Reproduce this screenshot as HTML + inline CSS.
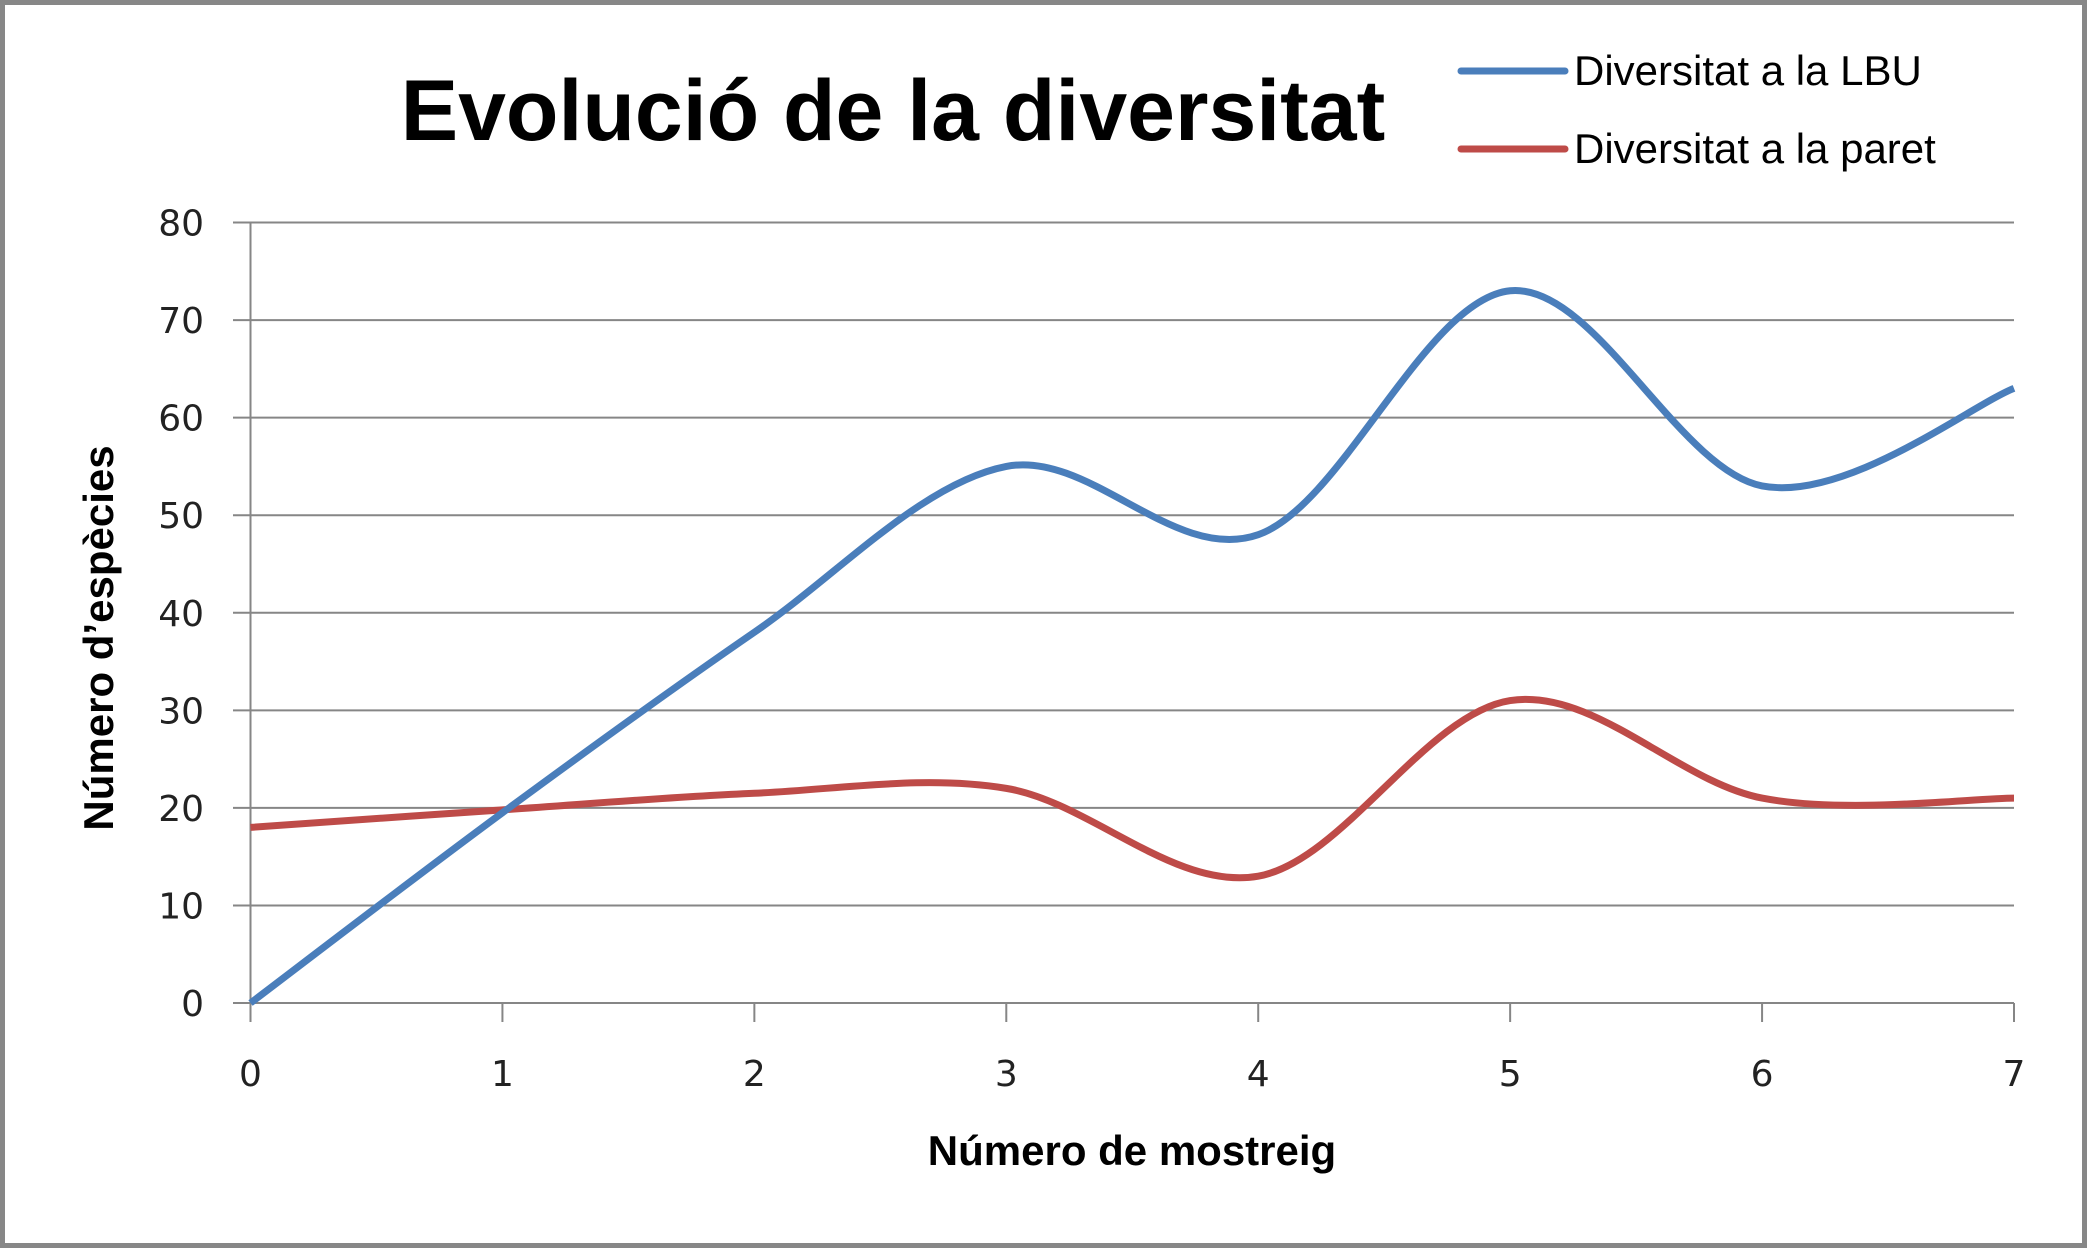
<!DOCTYPE html>
<html><head><meta charset="utf-8"><style>
html,body{margin:0;padding:0;background:#fff}
svg{display:block}
</style></head><body>
<svg id="chart" width="2089" height="1250" viewBox="0 0 2089 1250" xmlns="http://www.w3.org/2000/svg">
<rect x="2.5" y="2.5" width="2082" height="1243" fill="#fff" stroke="#878787" stroke-width="5"/>
<text x="893" y="140" text-anchor="middle" font-family="Liberation Sans, sans-serif" font-weight="bold" font-size="86">Evolució de la diversitat</text>
<g>
<line x1="1461" y1="71" x2="1565" y2="71" stroke="#4a7ebb" stroke-width="7" stroke-linecap="round"/>
<text x="1574" y="85" font-family="Liberation Sans, sans-serif" font-size="42">Diversitat a la LBU</text>
<line x1="1461" y1="149" x2="1565" y2="149" stroke="#be4b48" stroke-width="7" stroke-linecap="round"/>
<text x="1574" y="163" font-family="Liberation Sans, sans-serif" font-size="42">Diversitat a la paret</text>
</g>
<g id="grid"></g>
<g id="axes"></g>
<g id="series"></g>
<text x="1132" y="1165" text-anchor="middle" font-family="Liberation Sans, sans-serif" font-weight="bold" font-size="42">Número de mostreig</text>
<text transform="translate(113,638) rotate(-90)" text-anchor="middle" font-family="Liberation Sans, sans-serif" font-weight="bold" font-size="42">Número d’espècies</text>
</svg>
<script>
const categories = [0,1,2,3,4,5,6,7];
const lbuValues = [0,19.5,38,55,48,73,53,63];
const paretValues = [18,19.8,21.5,22,13,31,21,21];
const yTicks = [0,10,20,30,40,50,60,70,80];
const xTickLabels = ["0","1","2","3","4","5","6","7"];

const NS = "http://www.w3.org/2000/svg";
const X0 = 250.5, X1 = 2014, Y0 = 1003, Y1 = 222.5;
const xScale = v => X0 + (v - 0) / 7 * (X1 - X0);
const yScale = v => Y0 - (v - 0) / 80 * (Y0 - Y1);
function mk(tag, attrs, parent){const e=document.createElementNS(NS,tag);for(const k in attrs)e.setAttribute(k,attrs[k]);parent.appendChild(e);return e;}
const grid=document.getElementById('grid'), axes=document.getElementById('axes'), series=document.getElementById('series');
yTicks.forEach(t=>{
  const y=yScale(t);
  const l=mk('line',{x1:233,x2:X1,y1:y,y2:y,stroke:'#868686','stroke-width':2},grid);
  
  
  const tx=mk('text',{x:204,y:y+13,'text-anchor':'end','font-family':'DejaVu Sans, sans-serif','font-size':36,fill:'#222'},axes);
  tx.textContent=t;
  
  
});
const ya=mk('line',{x1:X0,x2:X0,y1:Y1,y2:1022,stroke:'#868686','stroke-width':2},axes);


categories.forEach((c,i)=>{
  const x=xScale(c);
  const tk=mk('line',{x1:x,x2:x,y1:Y0,y2:1022,stroke:'#868686','stroke-width':2},axes);
  
  
  const tx=mk('text',{x:x,y:1086,'text-anchor':'middle','font-family':'DejaVu Sans, sans-serif','font-size':36,fill:'#222'},axes);
  tx.textContent=xTickLabels[i];
  
  
});
function smoothPath(vals){
  const p=vals.map((v,i)=>[xScale(categories[i]),yScale(v)]);
  let d='M'+p[0][0]+','+p[0][1];
  for(let i=0;i<p.length-1;i++){
    const a=p[Math.max(0,i-1)],b=p[i],c=p[i+1],e=p[Math.min(p.length-1,i+2)];
    const c1=[b[0]+(c[0]-a[0])/6,b[1]+(c[1]-a[1])/6];
    const c2=[c[0]-(e[0]-b[0])/6,c[1]-(e[1]-b[1])/6];
    d+=' C'+c1+' '+c2+' '+c;
  }
  return d;
}
const pr=mk('path',{d:smoothPath(paretValues),fill:'none',stroke:'#be4b48','stroke-width':7,'stroke-linejoin':'round'},series);


const pb=mk('path',{d:smoothPath(lbuValues),fill:'none',stroke:'#4a7ebb','stroke-width':7,'stroke-linejoin':'round'},series);


</script>
</body></html>
